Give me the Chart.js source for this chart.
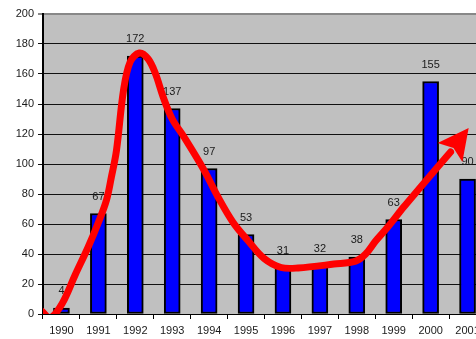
<!DOCTYPE html>
<html>
<head>
<meta charset="utf-8">
<script src="https://cdn.jsdelivr.net/npm/chart.js@4.4.1/dist/chart.umd.min.js"></script>
<style>
  html, body { margin: 0; padding: 0; background: #fff; overflow: hidden; }
  #wrap { position: absolute; left: 0; top: 0; width: 486px; height: 339px; }
</style>
</head>
<body>
<div id="wrap"><canvas id="c" width="486" height="339"></canvas></div>
<script>
// Yearly counts
const years = ['1990','1991','1992','1993','1994','1995','1996','1997','1998','1999','2000','2001'];
const counts = [4, 67, 172, 137, 97, 53, 31, 32, 38, 63, 155, 90];

// Freehand trend stroke: x in category units (0 = 1990), y in count units
const trendX = [-0.54, -0.30, 0.02, 0.37, 0.73, 1.0, 1.22, 1.35, 1.49, 1.68, 1.86, 2.11, 2.35, 2.55, 2.75, 3.0, 3.32, 3.86, 4.24, 4.65, 5.05, 5.49, 5.95, 6.41, 7.38, 7.97, 8.24, 8.51, 8.84, 9.27, 9.73, 10.19, 10.54];
const trendY = [2, -2.5, 7, 26, 45, 61, 76, 91, 109, 149, 168, 174, 170, 160, 145, 130, 118, 96, 78, 61, 49, 37, 31, 30.7, 33.3, 35.3, 40, 48.7, 58, 71.3, 84.7, 98, 108];

// Arrowhead at the end of the stroke: tip, left wing, notch, right wing
const arrowX = [11.03, 10.19, 10.62, 10.86];
const arrowY = [124, 114, 110.7, 101.3];

const yTicks = [0, 20, 40, 60, 80, 100, 120, 140, 160, 180, 200];

const FONT = { family: '"Liberation Sans", Arial, sans-serif', size: 11 };
const TEXT = '#1a1a1a';

const plotBg = {
  id: 'plotBg',
  beforeDraw(chart) {
    const { ctx, chartArea: a } = chart;
    ctx.save();
    ctx.fillStyle = '#c0c0c0';
    ctx.fillRect(a.left, a.top, a.right - a.left, a.bottom - a.top);
    ctx.restore();
  }
};

const barValues = {
  id: 'barValues',
  afterDatasetDraw(chart, args) {
    if (args.index !== 0) return;
    const { ctx } = chart;
    const meta = chart.getDatasetMeta(0);
    ctx.save();
    ctx.font = FONT.size + 'px ' + FONT.family;
    ctx.fillStyle = TEXT;
    ctx.textAlign = 'center';
    ctx.textBaseline = 'middle';
    meta.data.forEach((bar, i) => {
      ctx.fillText(String(counts[i]), bar.x, bar.y - 17);
    });
    ctx.restore();
  }
};

const arrowHead = {
  id: 'arrowHead',
  afterDatasetsDraw(chart) {
    const { ctx } = chart;
    const xs = chart.scales.xl, ys = chart.scales.y;
    ctx.save();
    ctx.fillStyle = '#ff0000';
    ctx.beginPath();
    arrowX.forEach((v, i) => {
      const px = xs.getPixelForValue(v), py = ys.getPixelForValue(arrowY[i]);
      if (i === 0) ctx.moveTo(px, py); else ctx.lineTo(px, py);
    });
    ctx.closePath();
    ctx.fill();
    ctx.restore();
  }
};

new Chart(document.getElementById('c'), {
  data: {
    labels: years,
    datasets: [
      {
        type: 'bar',
        data: counts,
        backgroundColor: '#0000ff',
        borderColor: '#000000',
        borderWidth: 2,
        borderSkipped: false,
        grouped: false,
        barThickness: 16,
        xAxisID: 'x',
        order: 2
      },
      {
        type: 'line',
        data: trendX.map((x, i) => ({ x, y: trendY[i] })),
        borderColor: '#ff0000',
        borderWidth: 7,
        borderCapStyle: 'round',
        borderJoinStyle: 'round',
        pointRadius: 0,
        tension: 0.35,
        fill: false,
        xAxisID: 'xl',
        order: 1
      }
    ]
  },
  options: {
    responsive: false,
    animation: false,
    events: [],
    layout: { autoPadding: false, padding: { left: 0, top: 14, right: 0, bottom: 0 } },
    plugins: { legend: { display: false }, tooltip: { enabled: false } },
    scales: {
      x: {
        type: 'category',
        offset: true,
        grid: { offset: true, drawOnChartArea: false, drawTicks: true, tickLength: 5, color: '#000', lineWidth: 1 },
        border: { display: true, color: '#000', width: 1 },
        ticks: { color: TEXT, font: FONT, padding: 5, maxRotation: 0, autoSkip: false },
        afterFit(s) { s.height = 25; }
      },
      xl: {
        type: 'linear',
        display: false,
        min: -0.5,
        max: 11.5
      },
      y: {
        min: 0,
        max: 200,
        afterBuildTicks(s) { s.ticks = yTicks.map(v => ({ value: v })); },
        grid: {
          color: (c) => (c.tick && c.tick.value === 200 ? '#888888' : '#111111'),
          lineWidth: (c) => (c.tick && c.tick.value === 200 ? 2 : 1),
          tickLength: 5,
          drawTicks: true
        },
        border: { display: true, color: '#000', width: 2 },
        ticks: { color: TEXT, font: FONT, padding: 4 },
        afterFit(s) { s.width = 43; }
      }
    }
  },
  plugins: [plotBg, barValues, arrowHead]
});
</script>
</body>
</html>
